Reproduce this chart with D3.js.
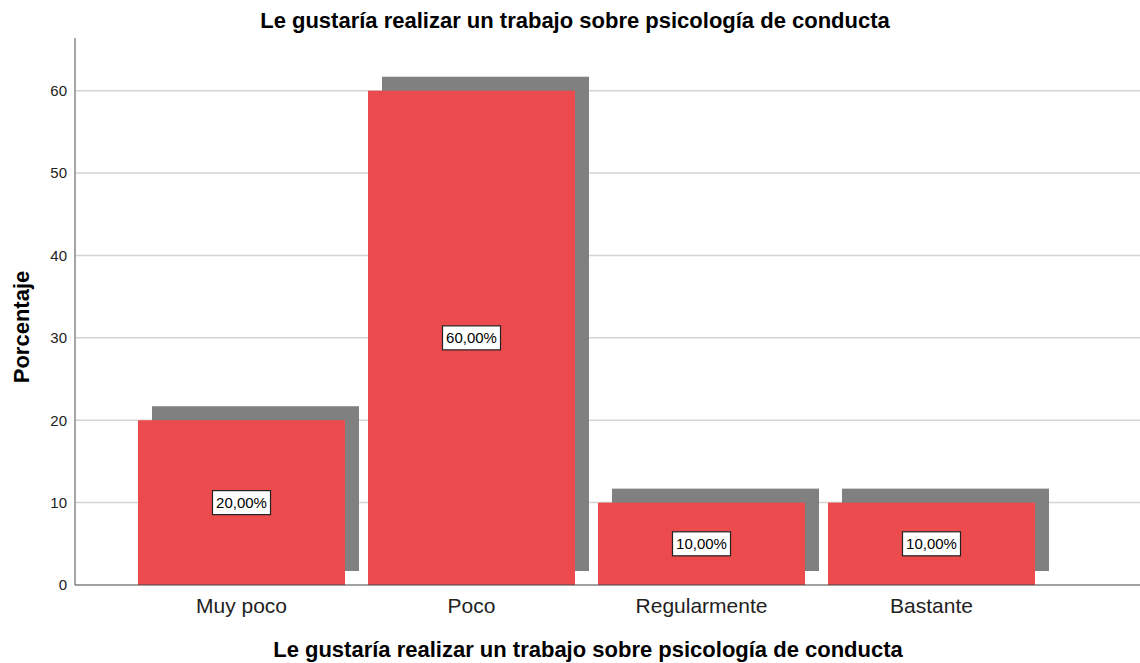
<!DOCTYPE html>
<html>
<head>
<meta charset="utf-8">
<script src="https://cdn.jsdelivr.net/npm/d3@7"></script>
<style>
  body { margin: 0; background: #fff; }
  text { font-family: "Liberation Sans", Arial, sans-serif; }
</style>
</head>
<body>
<svg width="1140" height="663"></svg>
<script>
var categories = ["Muy poco", "Poco", "Regularmente", "Bastante"];
var percents = [20, 60, 10, 10];
var labels = ["20,00%", "60,00%", "10,00%", "10,00%"];
var yTicks = [0, 10, 20, 30, 40, 50, 60];
var title = "Le gustaría realizar un trabajo sobre psicología de conducta";

var svg = d3.select("svg");
var width = +svg.attr("width");
var height = +svg.attr("height");
var margin = {top: 38, right: 0, bottom: 78, left: 75};
var shadow = 14;

var data = categories.map(function(c, i){
    return {cat: c, val: percents[i], label: labels[i]};
});

// scales
var x = d3.scaleBand()
    .domain(categories)
    .range([126.5, 1046.5])
    .paddingInner(0.1)
    .paddingOuter(0.05);
var y = d3.scaleLinear()
    .domain([0, 66.4])
    .range([height - margin.bottom, margin.top]);

// gridlines
svg.append("g")
    .selectAll("line")
    .data(yTicks.slice(1)).enter()
    .append("line")
    .attr("x1", margin.left)
    .attr("x2", width)
    .attr("y1", d => y(d))
    .attr("y2", d => y(d))
    .attr("stroke", "#d4d4d4")
    .attr("stroke-width", 1.5);

// shadows
svg.append("g")
    .selectAll("rect")
    .data(data).enter()
    .append("rect")
    .attr("x", d => x(d.cat) + shadow)
    .attr("y", d => y(d.val) - shadow)
    .attr("width", x.bandwidth())
    .attr("height", d => y(0) - y(d.val))
    .attr("fill", "#808080");

// bars
svg.append("g")
    .selectAll("rect")
    .data(data).enter()
    .append("rect")
    .attr("x", d => x(d.cat))
    .attr("y", d => y(d.val))
    .attr("width", x.bandwidth())
    .attr("height", d => y(0) - y(d.val))
    .attr("fill", "#EB4B4D");

// axes
var yAxis = svg.append("g")
    .attr("transform", "translate(" + margin.left + ",0)")
    .call(d3.axisLeft(y).tickValues(yTicks).tickSize(0).tickPadding(8));
yAxis.select(".domain").remove();
yAxis.selectAll("text").attr("font-size", 15).attr("fill", "#222");

svg.append("line")
    .attr("x1", margin.left).attr("x2", margin.left)
    .attr("y1", margin.top).attr("y2", y(0))
    .attr("stroke", "#888").attr("stroke-width", 1.5);
svg.append("line")
    .attr("x1", margin.left).attr("x2", width)
    .attr("y1", y(0)).attr("y2", y(0))
    .attr("stroke", "#444").attr("stroke-width", 1.2);

var xAxis = svg.append("g")
    .attr("transform", "translate(0," + y(0) + ")")
    .call(d3.axisBottom(x).tickSize(0).tickPadding(13));
xAxis.select(".domain").remove();
xAxis.selectAll("text").attr("font-size", 21).attr("fill", "#222");

// value labels
var lab = svg.append("g")
    .selectAll("g")
    .data(data).enter()
    .append("g")
    .attr("transform", d => "translate(" + (x(d.cat) + x.bandwidth() / 2) + "," + y(d.val / 2) + ")");
lab.append("rect")
    .attr("x", -29).attr("y", -12)
    .attr("width", 58).attr("height", 24)
    .attr("fill", "#fff")
    .attr("stroke", "#222")
    .attr("stroke-width", 1.2);
lab.append("text")
    .attr("text-anchor", "middle")
    .attr("dy", "0.36em")
    .attr("font-size", 15)
    .attr("fill", "#000")
    .text(d => d.label);

// titles
svg.append("text")
    .attr("x", 575).attr("y", 28)
    .attr("text-anchor", "middle")
    .attr("font-size", 22).attr("font-weight", "bold")
    .text(title);
svg.append("text")
    .attr("x", 588).attr("y", 657)
    .attr("text-anchor", "middle")
    .attr("font-size", 22).attr("font-weight", "bold")
    .text(title);
svg.append("text")
    .attr("transform", "translate(29," + 327 + ") rotate(-90)")
    .attr("text-anchor", "middle")
    .attr("font-size", 22).attr("font-weight", "bold")
    .text("Porcentaje");
</script>
</body>
</html>
